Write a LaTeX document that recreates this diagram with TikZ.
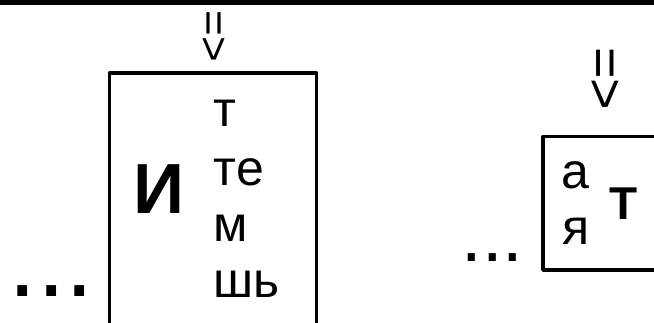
\documentclass[tikz,border=0pt]{standalone}
\usepackage{fontspec}
\setmainfont{Liberation Sans}
\begin{document}
\begin{tikzpicture}[x=1pt,y=-1pt,
  boxline/.style={line width=3.4pt, line join=round},
  txt/.style={inner sep=0pt, anchor=base west, font=\fontsize{50}{57}\selectfont},
  bigtxt/.style={inner sep=0pt, anchor=base west},
  arr/.style={inner sep=0pt, anchor=center, rotate=-90}]
\useasboundingbox (0,0) rectangle (654,323);
\clip (0,0) rectangle (654,323);
\fill[black] (0,-2) rectangle (654,5.5);
% left box (open below the picture's edge)
\draw[boxline] (109.5,340) -- (109.5,73) -- (316.5,73) -- (316.5,340);
% right box (open past the right edge)
\draw[boxline] (670,136.5) -- (543,136.5) -- (543,270) -- (670,270);
% arrows
\node[arr, font=\fontsize{44}{44}\selectfont] (a1) at (212.5,36.5) {=>};
\node[arr, font=\fontsize{54}{54}\selectfont] (a2) at (603.5,79) {=>};
% left box letters
\node[bigtxt, font=\fontsize{71}{71}\selectfont\bfseries] (I) at (133,214) {И};
\node[txt] (t1) at (213.5,127) {т};
\node[txt] (t2) at (213.5,185.5) {те};
\node[txt] (t3) at (213.5,242) {м};
\node[txt] (t4) at (213.5,298) {шь};
\node[bigtxt, font=\fontsize{102}{102}\selectfont] (d1) at (8.7,297) {...};
% right box letters
\node[txt] (r1) at (561,189) {а};
\node[txt] (r2) at (562,245) {я};
\node[bigtxt, font=\fontsize{46}{46}\selectfont\bfseries] (T) at (609,220) {Т};
\node[bigtxt, font=\fontsize{74}{74}\selectfont] (d2) at (461.3,262) {...};
\end{tikzpicture}
\end{document}
